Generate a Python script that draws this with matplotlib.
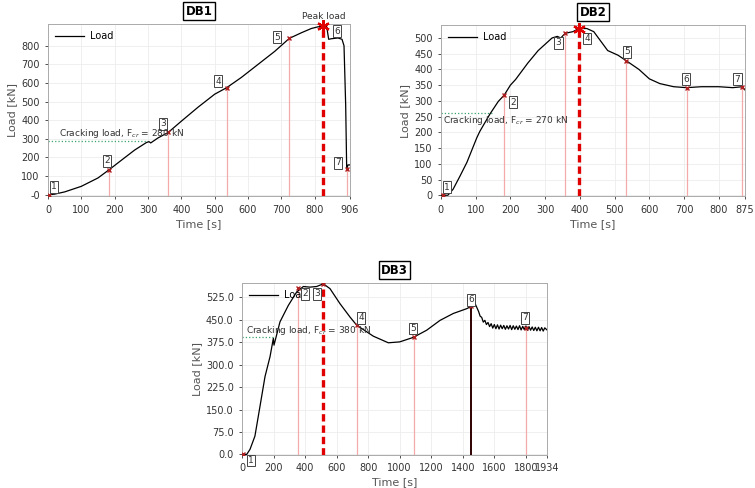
import matplotlib.pyplot as plt

# ---- DB1 ----
db1_time = [0, 5, 20, 50, 100, 150, 184, 220, 260, 295, 303, 308, 330, 361, 400, 450, 500, 536,
            580, 630, 680, 724, 760, 790, 810, 826, 836, 842, 850, 870, 882, 888, 893, 896, 900, 906]
db1_load = [0, 0, 3, 15, 45, 90, 135, 185, 240, 280, 285, 278, 305, 335, 395, 470, 540, 575,
            630, 700, 770, 840, 870, 893, 902, 905, 903, 835, 838, 842, 835, 800, 480, 140, 160, 160]
db1_ev_time = [4, 184, 361, 536, 724, 826, 896]
db1_ev_load = [0, 135, 335, 575, 840, 905, 140]
db1_crack = 290
db1_xticks = [0, 100, 200, 300, 400, 500, 600, 700, 800, 906]
db1_yticks = [0, 100, 200, 300, 400, 500, 600, 700, 800]
db1_ylabels = ['-0', '100', '200', '300', '400', '500', '600', '700', '800']

# ---- DB2 ----
db2_time = [0, 20, 35, 55, 75, 103, 112, 141, 165, 182, 200, 215, 250, 280, 320, 335, 345, 358,
            380, 397, 420, 440, 460, 480, 510, 533, 570, 600, 630, 670, 707, 750, 800, 840, 868, 875]
db2_load = [0, 0, 19, 61, 105, 182, 203, 258, 298, 318, 350, 368, 420, 460, 500, 505, 500, 515,
            520, 530, 530, 520, 490, 460, 445, 428, 400, 370, 355, 345, 342, 345, 345, 342, 345, 335]
db2_ev_time = [5, 182, 358, 397, 533, 707, 868]
db2_ev_load = [0, 318, 515, 530, 428, 342, 345]
db2_crack = 262
db2_xticks = [0, 100, 200, 300, 400, 500, 600, 700, 800, 875]
db2_yticks = [0, 50, 100, 150, 200, 250, 300, 350, 400, 450, 500]
db2_ylabels = [str(v) for v in db2_yticks]

# ---- DB3 ----  (noisy tail after ~1500 s read as a zig-zag band)
db3_time = [0, 30, 51, 82, 114, 146, 178, 199, 203, 241, 294, 347, 389, 431, 473, 516, 558, 621,
            685, 727, 833, 928, 1000, 1086, 1171, 1256, 1340, 1425, 1455, 1478,
            1500, 1510, 1520, 1530, 1540, 1550, 1560, 1570, 1580, 1590, 1600, 1610, 1620, 1630,
            1640, 1650, 1660, 1670, 1680, 1690, 1700, 1710, 1720, 1730, 1740, 1750, 1760, 1770,
            1780, 1790, 1800, 1810, 1820, 1830, 1840, 1850, 1860, 1870, 1880, 1890, 1900, 1910,
            1920, 1934]
db3_load = [0, 0, 17, 61, 160, 260, 327, 388, 365, 443, 498, 543, 561, 559, 561, 570, 554, 504,
            459, 432, 395, 373, 376, 391, 415, 448, 471, 487, 495, 504,
            478, 462, 458, 442, 448, 434, 441, 427, 437, 422, 434, 420, 433, 419,
            432, 420, 431, 418, 430, 419, 431, 417, 430, 418, 429, 417, 430, 416,
            428, 417, 429, 415, 427, 415, 426, 414, 425, 413, 425, 413, 424, 412,
            423, 416]
db3_ev_time = [5, 355, 516, 727, 1090, 1455, 1800]
db3_ev_load = [0, 555, 570, 432, 392, 495, 423]
db3_crack = 391
db3_xticks = [0, 200, 400, 600, 800, 1000, 1200, 1400, 1600, 1800, 1934]
db3_yticks = [0, 75, 150, 225, 300, 375, 450, 525]
db3_ylabels = ['%.1f' % v for v in db3_yticks]

GRAY = '#555555'
PINK = '#f4aaaa'


def panel(ax, name, t, load, ev_t, ev_l, peak, crack, crack_end, crack_txt, txt_xy,
          lab_xy, xticks, yticks, ylabels, ylim, star=True, dark=None):
    ax.plot(t, load, color='black', lw=0.9, label='Load', zorder=3)
    y0 = ylim[0]
    for i, (et, el) in enumerate(zip(ev_t, ev_l)):
        if i == peak:
            ax.plot([et, et], [y0, ylim[1]], color='#e00000', lw=2.4, ls=(0, (2.2, 1.2)), zorder=4)
        elif i == dark:
            ax.plot([et, et], [y0, el], color='#300000', lw=1.4, zorder=2)
        else:
            ax.plot([et, et], [y0, el], color=PINK, lw=0.9, zorder=2)
        ax.plot(et, el, marker='x', ms=3, mew=1, color='#b02020', zorder=5)
        lx, ly = lab_xy[i]
        ax.text(lx, ly, str(i + 1), fontsize=6.5, ha='center', va='center', color='#333333',
                bbox=dict(boxstyle='square,pad=0.15', fc='white', ec='#444444', lw=0.7),
                zorder=6, clip_on=False)
    if star:
        ax.plot(ev_t[peak], ev_l[peak], marker=(6, 2, 0), ms=9, mew=1.6, color='#e00000',
                zorder=6, clip_on=False)
    ax.plot([0, crack_end], [crack, crack], color='#3aa56a', lw=0.9, ls=':', zorder=2)
    ax.text(txt_xy[0], txt_xy[1], crack_txt, fontsize=6.5, color='#333333', va='center', zorder=6)

    ax.set_xlim(0, xticks[-1])
    ax.set_ylim(*ylim)
    ax.set_xticks(xticks)
    ax.set_yticks(yticks)
    ax.set_yticklabels(ylabels)
    ax.grid(color='#ececec', lw=0.6)
    ax.set_axisbelow(True)
    ax.tick_params(labelsize=7, colors='#333333', length=2.5, width=0.6)
    for s in ax.spines.values():
        s.set_color('#aaaaaa')
        s.set_linewidth(0.7)
    ax.set_xlabel('Time [s]', fontsize=8, color=GRAY, labelpad=3)
    ax.set_ylabel('Load [kN]', fontsize=8, color=GRAY, labelpad=3)
    ax.set_title(name, fontsize=8.5, fontweight='bold', pad=7,
                 bbox=dict(boxstyle='square,pad=0.2', fc='white', ec='black', lw=1))
    ax.legend(loc='upper left', frameon=False, fontsize=7, handlelength=3,
              borderaxespad=0.3, handletextpad=0.6)


fig = plt.figure(figsize=(7.55, 4.88), dpi=100)
ax1 = fig.add_axes([0.0636, 0.598, 0.400, 0.352])
ax2 = fig.add_axes([0.584, 0.598, 0.4026, 0.350])
ax3 = fig.add_axes([0.3205, 0.0676, 0.404, 0.352])

lab1 = [(18, 43), (177, 182), (345, 380), (510, 610), (687, 846), (867, 878), (870, 171)]
panel(ax1, 'DB1', db1_time, db1_load, db1_ev_time, db1_ev_load, 5, db1_crack, 301,
      'Cracking load, F$_{cr}$ = 280 kN', (34, 327), lab1,
      db1_xticks, db1_yticks, db1_ylabels, (-8, 915))
ax1.text(826, 958, 'Peak load', fontsize=6.5, color='#333333', ha='center', va='center')

lab2 = [(18, 26), (208, 296), (338, 484), (421, 498), (536, 456), (705, 369), (854, 369)]
panel(ax2, 'DB2', db2_time, db2_load, db2_ev_time, db2_ev_load, 3, db2_crack, 150,
      'Cracking load, F$_{cr}$ = 270 kN', (7, 238), lab2,
      db2_xticks, db2_yticks, db2_ylabels, (-3, 540))

lab3 = [(57, -20), (401, 537), (476, 537), (755, 456), (1086, 421), (1452, 517), (1795, 456)]
panel(ax3, 'DB3', db3_time, db3_load, db3_ev_time, db3_ev_load, 2, db3_crack, 199,
      'Cracking load, F$_{cr}$ = 380 kN', (25, 414), lab3,
      db3_xticks, db3_yticks, db3_ylabels, (-2, 572), star=False, dark=5)

fig.savefig('out.png', dpi=100)
